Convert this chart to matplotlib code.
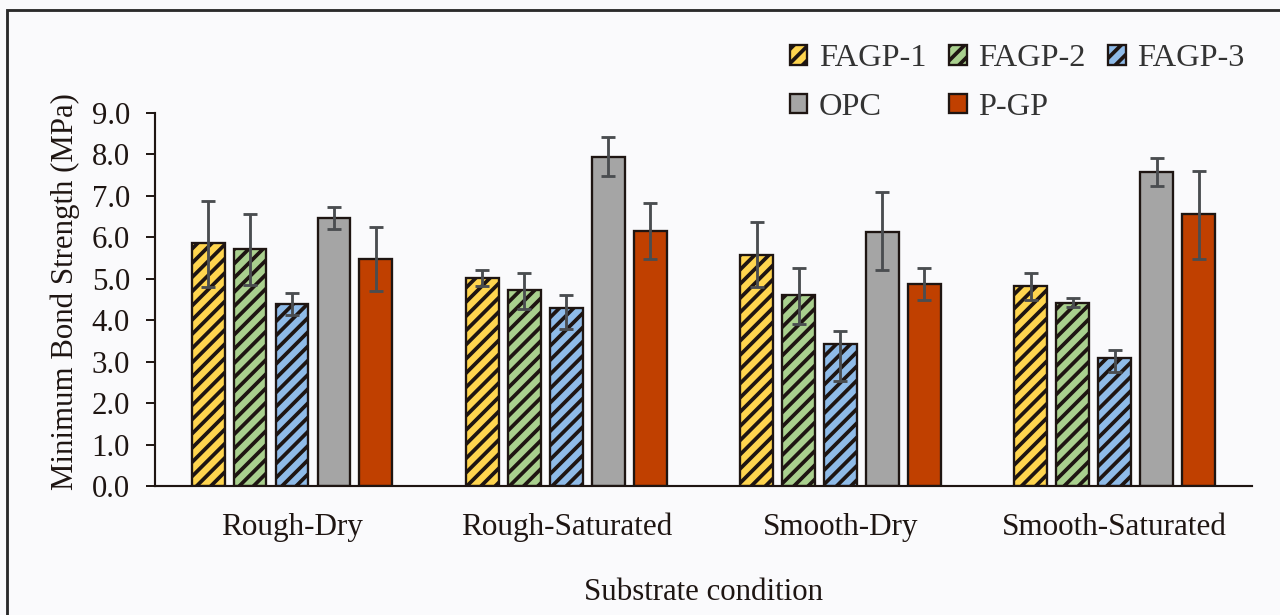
"""Minimum bond strength by substrate condition, grouped bars with error bars."""
import matplotlib
matplotlib.use("Agg")
import matplotlib.pyplot as plt
import numpy as np
from matplotlib.patches import Rectangle

conditions = ["Rough-Dry", "Rough-Saturated", "Smooth-Dry", "Smooth-Saturated"]
series = ["FAGP-1", "FAGP-2", "FAGP-3", "OPC", "P-GP"]

fagp1 = [5.86, 5.02, 5.57, 4.83]
fagp2 = [5.71, 4.72, 4.62, 4.42]
fagp3 = [4.39, 4.29, 3.43, 3.08]
opc = [6.46, 7.94, 6.13, 7.57]
pgp = [5.47, 6.16, 4.87, 6.56]

# lower / upper error lengths
fagp1_lo = [1.05, 0.19, 0.77, 0.35]
fagp1_hi = [1.02, 0.19, 0.79, 0.32]
fagp2_lo = [0.86, 0.44, 0.70, 0.09]
fagp2_hi = [0.85, 0.43, 0.65, 0.11]
fagp3_lo = [0.27, 0.51, 0.90, 0.32]
fagp3_hi = [0.26, 0.33, 0.32, 0.21]
opc_lo = [0.26, 0.47, 0.92, 0.32]
opc_hi = [0.26, 0.49, 0.96, 0.34]
pgp_lo = [0.76, 0.69, 0.39, 1.09]
pgp_hi = [0.79, 0.66, 0.40, 1.05]

values = [fagp1, fagp2, fagp3, opc, pgp]
err_lo = [fagp1_lo, fagp2_lo, fagp3_lo, opc_lo, pgp_lo]
err_hi = [fagp1_hi, fagp2_hi, fagp3_hi, opc_hi, pgp_hi]
colors = ["#ffd54f", "#a9d08e", "#8fbbe8", "#a5a5a5", "#c04000"]
hatches = ["///", "///", "///", "", ""]

plt.rcParams["font.family"] = ["Liberation Serif", "DejaVu Serif"]
plt.rcParams["hatch.linewidth"] = 2.1
plt.rcParams["hatch.color"] = "#1e1512"

fig = plt.figure(figsize=(10, 615 / 128), dpi=128, facecolor="#fafafc")
ax = fig.add_axes([0.121, 0.2098, 0.857, 0.6065])
ax.set_facecolor("#fafafc")

x = np.arange(len(conditions))
width = 0.12
pitch = 0.153
handles = []
for i, name in enumerate(series):
    pos = x + (i - 2) * pitch
    b = ax.bar(pos, values[i], width, color=colors[i], edgecolor="#1e1512",
               linewidth=1.3, hatch=hatches[i], label=name, zorder=2)
    ax.errorbar(pos, values[i], yerr=[err_lo[i], err_hi[i]], fmt="none",
                ecolor="#4a4d50", elinewidth=1.6, capsize=4.2, capthick=1.6,
                zorder=3)
    handles.append(b)

ax.set_xlim(-0.5, 3.5)
ax.set_ylim(0, 9)
ax.set_yticks(np.arange(0, 9.5, 1.0))
ax.set_yticklabels([f"{v:.1f}" for v in np.arange(0, 9.5, 1.0)])
ax.set_xticks(x)
ax.set_xticklabels(conditions)
ax.tick_params(axis="y", length=5, width=1.1, pad=9, labelsize=17.3,
               color="#1e1512", labelcolor="#1e1512")
ax.tick_params(axis="x", length=0, pad=15, labelsize=17.5, labelcolor="#1e1512")
for s in ["top", "right"]:
    ax.spines[s].set_visible(False)
for s in ["left", "bottom"]:
    ax.spines[s].set_color("#1e1512")
    ax.spines[s].set_linewidth(1.2)

ax.set_ylabel("Minimum Bond Strength (MPa)", fontsize=17.4, color="#1e1512")
ax.yaxis.set_label_coords(-0.068, 0.52)
ax.set_xlabel("Substrate condition", fontsize=17.4, color="#1e1512", labelpad=20)

order = [0, 3, 1, 4, 2]
fig.legend([handles[k] for k in order], [series[k] for k in order], ncol=3,
           loc="upper right", bbox_to_anchor=(0.995, 0.975), frameon=False,
           fontsize=18.2, handlelength=0.55, handleheight=0.55,
           handletextpad=0.35, columnspacing=0.7, labelspacing=0.6,
           labelcolor="#333333")

# outer chart-area frame
fig.patches.append(Rectangle((7 / 1280, -0.01), 1.1, 1 - 10 / 615 + 0.01,
                             transform=fig.transFigure, fill=False,
                             edgecolor="#2a2a2a", linewidth=1.6))

fig.savefig("out.png", dpi=128, facecolor=fig.get_facecolor())
